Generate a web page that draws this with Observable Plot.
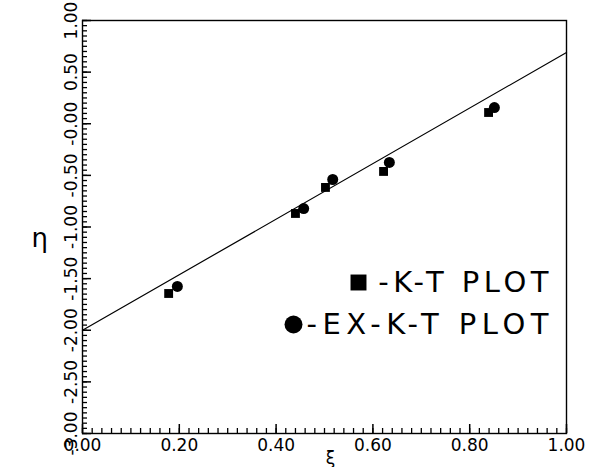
<!DOCTYPE html>
<html>
<head>
<meta charset="utf-8">
<script src="https://cdn.jsdelivr.net/npm/d3@7"></script>
<script src="https://cdn.jsdelivr.net/npm/@observablehq/plot@0.6"></script>
<style>
  html, body { margin: 0; padding: 0; background: #fff; }
  .legend-a text { letter-spacing: 4.5px; }
  .legend-b text { letter-spacing: 5.5px; }
</style>
</head>
<body>
<div id="chart"></div>
<script>
// Data
const ktXi  = [0.178, 0.440, 0.502, 0.622, 0.839];
const ktEta = [-1.644, -0.869, -0.617, -0.462, 0.109];
const exXi  = [0.196, 0.457, 0.517, 0.634, 0.851];
const exEta = [-1.576, -0.821, -0.540, -0.375, 0.157];
const fitXi  = [0, 1];
const fitEta = [-2.0, 0.69];

const xTicks = [0, 0.2, 0.4, 0.6, 0.8, 1.0];
const xTickLabels = ["0.00", "0.20", "0.40", "0.60", "0.80", "1.00"];
const yTicks = [-3, -2.5, -2, -1.5, -1, -0.5, 0, 0.5, 1];
const yTickLabels = ["-3.00", "-2.50", "-2.00", "-1.50", "-1.00", "-0.50", "-0.00", "0.50", "1.00"];
const xMinor = d3.range(0, 1.0001, 0.02);
const yMinor = d3.range(-3, 1.0001, 0.05);

const legendLabels = ["-K-T PLOT", "-EX-K-T PLOT"];

const kt = ktXi.map((x, i) => ({x, y: ktEta[i]}));
const ex = exXi.map((x, i) => ({x, y: exEta[i]}));
const fit = fitXi.map((x, i) => ({x, y: fitEta[i]}));

const W = 603, H = 467, ML = 82, MR = 37, MT = 20, MB = 34;
const FW = W - ML - MR, FH = H - MT - MB;

const chart = Plot.plot({
  width: W,
  height: H,
  marginLeft: ML,
  marginRight: MR,
  marginTop: MT,
  marginBottom: MB,
  x: {domain: [0, 1], axis: null},
  y: {domain: [-3, 1], axis: null},
  style: {fontFamily: "DejaVu Sans, sans-serif", fontSize: "16px", background: "white"},
  marks: [
    Plot.frame({stroke: "black", strokeWidth: 1.4}),
    Plot.text(xTicks, {x: d => d, text: (d, i) => xTickLabels[i], frameAnchor: "bottom", dy: 12, fontSize: 17, lineAnchor: "middle"}),
    Plot.text(yTicks, {y: d => d, text: (d, i) => yTickLabels[i], frameAnchor: "left", dx: -11, rotate: -90, fontSize: 17, textAnchor: "middle", lineAnchor: "middle"}),
    Plot.text(["ξ"], {frameAnchor: "bottom", dx: 6, dy: 25, fontSize: 17, lineAnchor: "middle"}),
    Plot.text(["η"], {frameAnchor: "left", dx: -51, dy: 12, fontSize: 26, lineAnchor: "middle"}),
    Plot.line(fit, {x: "x", y: "y", stroke: "black", strokeWidth: 1.2}),
    Plot.dot(kt, {x: "x", y: "y", symbol: "square", r: 5, fill: "black", stroke: "none"}),
    Plot.dot(ex, {x: "x", y: "y", symbol: "circle", r: 5.5, fill: "black", stroke: "none"}),
    Plot.text([legendLabels[0]], {frameAnchor: "top-right", dx: -13.5, dy: 262, textAnchor: "end", lineAnchor: "middle", fontSize: 29, className: "legend-a"}),
    Plot.text([legendLabels[1]], {frameAnchor: "top-right", dx: -12.5, dy: 304, textAnchor: "end", lineAnchor: "middle", fontSize: 29, className: "legend-b"}),
    Plot.dot([legendLabels[0]], {frameAnchor: "top-right", dx: -208, dy: 262, symbol: "square", r: 9, fill: "black", stroke: "none"}),
    Plot.dot([legendLabels[1]], {frameAnchor: "top-right", dx: -273, dy: 304, symbol: "circle", r: 9, fill: "black", stroke: "none"}),
    // inward ticks on the bottom and left edges, drawn last
    Plot.ruleX(xMinor, {x: d => d, insetTop: FH - 5, stroke: "black", strokeWidth: 1.3}),
    Plot.ruleX(xTicks, {x: d => d, insetTop: FH - 9, stroke: "black", strokeWidth: 1.5}),
    Plot.ruleY(yMinor, {y: d => d, insetRight: FW - 5, stroke: "black", strokeWidth: 1.3}),
    Plot.ruleY(yTicks, {y: d => d, insetRight: FW - 9, stroke: "black", strokeWidth: 1.5})
  ]
});
document.getElementById("chart").appendChild(chart);
</script>
</body>
</html>
